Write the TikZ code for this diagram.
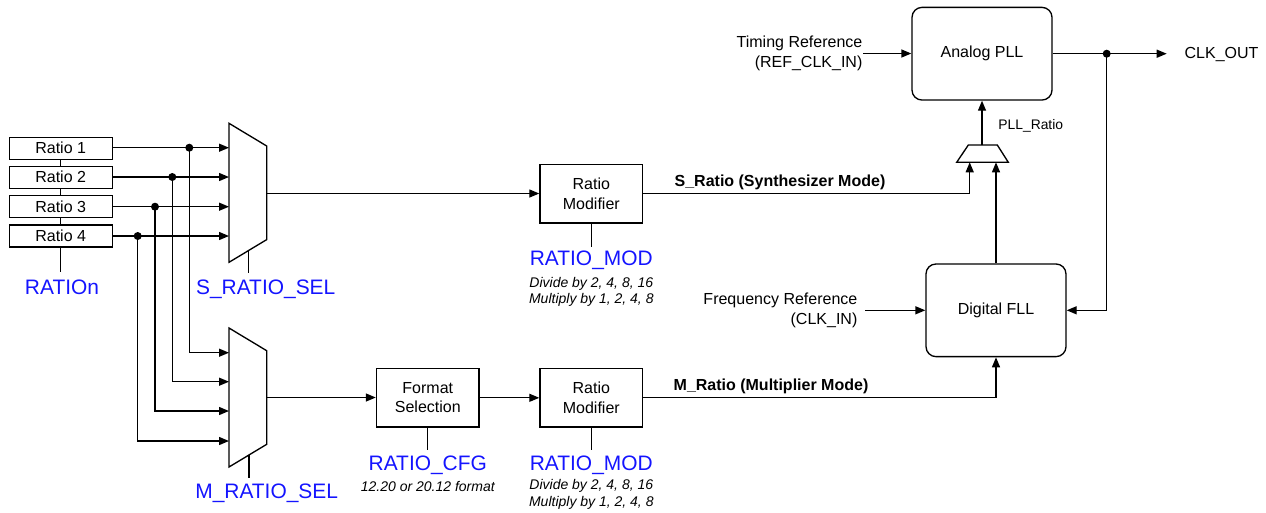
\documentclass[tikz,border=0pt]{standalone}
\usepackage{fontspec}
\setmainfont{Liberation Sans}
\usetikzlibrary{arrows.meta}
\definecolor{sigblue}{RGB}{20,20,255}
\begin{document}
\begin{tikzpicture}[x=0.75pt,y=-0.75pt,line width=1pt,
  >={Triangle[length=7.5pt,width=6pt]},
  ratiobox/.style={draw,inner sep=0pt,minimum width=77.25pt,minimum height=16.5pt,font=\fontsize{12}{14}\selectfont},
  blk/.style={draw,inner sep=0pt,minimum width=77pt,minimum height=44pt,align=center,font=\fontsize{12}{14.3}\selectfont},
  rblk/.style={draw,rounded corners=7.5pt,inner sep=0pt,minimum width=105pt,minimum height=69.5pt,font=\fontsize{12}{14}\selectfont},
  lbl/.style={inner sep=0pt,font=\fontsize{12}{15}\selectfont},
  boldlbl/.style={inner sep=0pt,font=\fontsize{12}{14}\selectfont\bfseries},
  sig/.style={inner sep=0pt,text=sigblue,font=\fontsize{15.7}{18}\selectfont},
  note/.style={inner sep=0pt,align=center,font=\fontsize{10.5}{12.2}\selectfont\itshape},
  small/.style={inner sep=0pt,font=\fontsize{10.4}{12}\selectfont},
  jdot/.style={circle,fill,inner sep=0pt,minimum size=6pt}]
\useasboundingbox (0,0) rectangle (1266,512);

% Ratio registers
\node[ratiobox] (r1) at (60.7,148.2) {Ratio 1};
\node[ratiobox] (r2) at (60.7,177.2) {Ratio 2};
\node[ratiobox] (r3) at (60.7,206.5) {Ratio 3};
\node[ratiobox] (r4) at (60.7,236) {Ratio 4};
\draw (r1.south) -- (r2.north);
\draw (r2.south) -- (r3.north);
\draw (r3.south) -- (r4.north);
\coordinate (rn) at (60.7,272);
\draw (r4.south) -- (rn);
\node[sig] (ratn) at (62,287) {RATIOn};

% S mux
\draw (229,123.3) -- (266.7,146) -- (266.7,239.6) -- (229,262.3) -- cycle;
\coordinate (smo) at (266.7,193.5);
\coordinate (ssel) at (248.7,250.4);
\coordinate (sselb) at (248.7,273.3);
\draw (ssel) -- (sselb);
\node[sig] (ssl) at (265.7,289) {S\_RATIO\_SEL};

% M mux
\draw (229,328) -- (266.7,350.7) -- (266.7,444.3) -- (229,467) -- cycle;
\coordinate (mmo) at (266.7,397.5);
\coordinate (msel) at (249,455);
\coordinate (mselb) at (249,478.3);
\draw (msel) -- (mselb);
\node[sig] (msl) at (266.7,493) {M\_RATIO\_SEL};

% junctions
\node[jdot] (j1) at (189.3,147.7) {};
\node[jdot] (j2) at (172.3,177) {};
\node[jdot] (j3) at (155,206.7) {};
\node[jdot] (j4) at (137.7,236) {};

% S mux inputs
\coordinate (si1) at (229,147.7);
\coordinate (si2) at (229,177);
\coordinate (si3) at (229,206.7);
\coordinate (si4) at (229,236);
\draw[->] (r1.east |- si1) -- (si1);
\draw[->] (r2.east |- si2) -- (si2);
\draw[->] (r3.east |- si3) -- (si3);
\draw[->] (r4.east |- si4) -- (si4);

% M mux inputs
\coordinate (mi1) at (229,352.7);
\coordinate (mi2) at (229,381.7);
\coordinate (mi3) at (229,411);
\coordinate (mi4) at (229,441);
\draw[->] (j1.center) |- (mi1);
\draw[->] (j2.center) |- (mi2);
\draw[->] (j3.center) |- (mi3);
\draw[->] (j4.center) |- (mi4);

% Ratio modifiers and format selection
\node[blk] (rm1) at (591.3,193.8) {Ratio\\Modifier};
\node[blk] (fs) at (427.8,397.8) {Format\\Selection};
\node[blk] (rm2) at (591.3,397.8) {Ratio\\Modifier};

\draw[->] (smo) -- (smo -| rm1.west);
\draw[->] (mmo) -- (mmo -| fs.west);
\draw[->] (fs.east) -- (rm2.west);

\coordinate (rm1b) at (591.3,247.3);
\draw (rm1.south) -- (rm1b);
\node[sig] (rmod1) at (591.3,260) {RATIO\_MOD};
\node[note] (n1a) at (591.3,284) {Divide by 2, 4, 8, 16};
\node[note] (n1b) at (591.3,300) {Multiply by 1, 2, 4, 8};

\coordinate (fsb) at (427.8,450);
\draw (fs.south) -- (fsb);
\node[sig] (rcfg) at (427.8,465) {RATIO\_CFG};
\node[note] (n2) at (427.8,486) {12.20 or 20.12 format};

\coordinate (rm2b) at (591.3,450);
\draw (rm2.south) -- (rm2b);
\node[sig] (rmod2) at (591.3,465) {RATIO\_MOD};
\node[note] (n3a) at (591.3,486) {Divide by 2, 4, 8, 16};
\node[note] (n3b) at (591.3,503) {Multiply by 1, 2, 4, 8};

% PLL and FLL
\node[rblk] (pll) at (982,53.7) {Analog PLL};
\node[rblk] (fll) at (996,310.3) {Digital FLL};

% small mux
\draw (956.7,162.3) -- (968.3,145) -- (997.3,145) -- (1008.3,162.3) -- cycle;
\coordinate (pmi1) at (969.7,162.3);
\coordinate (pmi2) at (996,162.3);
\coordinate (pmo) at (982,145);
\draw[->] (pmo) -- (pll.south);
\node[small,anchor=west] (pllr) at (997.7,126) {PLL\_Ratio};

% S_Ratio path
\draw[->] (rm1.east) -| (pmi1);
\node[boldlbl] (srl) at (780,182) {S\_Ratio (Synthesizer Mode)};

% M_Ratio path
\draw[->] (rm2.east) -| (fll.south);
\node[boldlbl] (mrl) at (771,386.7) {M\_Ratio (Multiplier Mode)};

% FLL to small mux
\draw[->] (fll.north) -- (pmi2);

% Timing reference
\coordinate (tref) at (863,53.5);
\draw[->] (tref) -- (pll.west |- tref);
\node[lbl,anchor=east,align=right] (trl) at (863,53.5) {Timing Reference\\(REF\_CLK\_IN)};

% Frequency reference
\coordinate (fref) at (865,310.3);
\draw[->] (fref) -- (fll.west);
\node[lbl,anchor=east,align=right] (frl) at (858,310.3) {Frequency Reference\\(CLK\_IN)};

% Output
\coordinate (cko) at (1166.7,53.7);
\draw[->] (pll.east) -- (cko);
\node[jdot] (j5) at (1106.7,53.7) {};
\draw[->] (j5.center) |- (fll.east);
\node[lbl,anchor=west] (ckl) at (1184,54) {CLK\_OUT};
\end{tikzpicture}
\end{document}
